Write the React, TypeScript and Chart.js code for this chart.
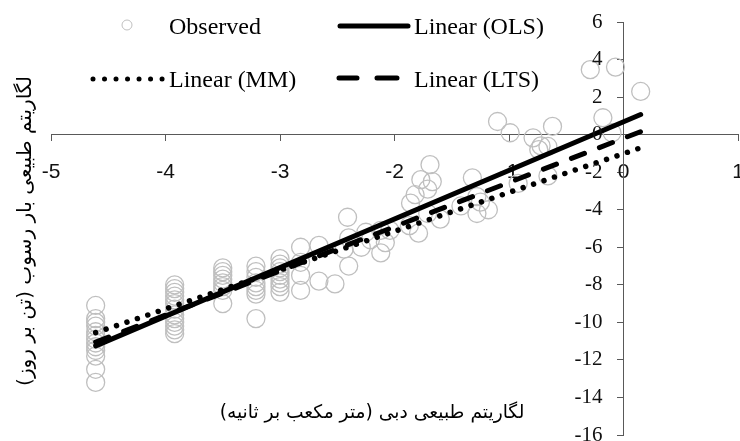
import React, { useEffect, useRef } from "react";
import { Chart, registerables } from "chart.js";

Chart.register(...registerables);

// Observed points (x = ln discharge, y = ln sediment load)
const observedX = [
  -4.61, -4.61, -4.61, -4.61, -4.61, -4.61, -4.61, -4.61, -4.61, -4.61, -4.61, -4.61, -4.61,
  -3.92, -3.92, -3.92, -3.92, -3.92, -3.92, -3.92, -3.92, -3.92, -3.92, -3.92, -3.92, -3.92,
  -3.5, -3.5, -3.5, -3.5, -3.5, -3.5, -3.5, -3.5,
  -3.21, -3.21, -3.21, -3.21, -3.21, -3.21, -3.21, -3.21,
  -3.0, -3.0, -3.0, -3.0, -3.0, -3.0, -3.0, -3.0, -3.0,
  -2.82, -2.82, -2.82, -2.82,
  -2.66, -2.66, -2.52,
  -2.41, -2.4, -2.44, -2.4, -2.29, -2.21, -2.25, -2.12, -2.12, -2.08, -2.04,
  -1.86, -1.87, -1.79, -1.82, -1.77, -1.71, -1.69, -1.67, -1.71, -1.6,
  -1.42, -1.32, -1.28, -1.28, -1.18, -1.25,
  -1.1, -0.99, -0.79, -0.62, -0.74, -0.66, -0.72,
  -0.92, -0.66, -0.18, -0.1, -0.29, -0.07, 0.15,
];
const observedY = [
  -9.1, -9.8, -10.0, -10.2, -10.5, -10.7, -10.9, -11.1, -11.3, -11.5, -11.8, -12.5, -13.2,
  -8.0, -8.2, -8.4, -8.6, -8.8, -9.0, -9.3, -9.6, -9.8, -10.0, -10.2, -10.4, -10.6,
  -7.1, -7.3, -7.5, -7.7, -7.9, -8.1, -8.3, -9.0,
  -7.0, -7.3, -7.6, -7.9, -8.1, -8.3, -8.5, -9.8,
  -6.6, -6.9, -7.1, -7.3, -7.5, -7.7, -7.9, -8.1, -8.4,
  -6.0, -6.8, -7.5, -8.3,
  -5.9, -7.8, -7.95,
  -4.4, -5.5, -6.1, -7.0, -6.0, -5.6, -5.2, -5.1, -6.3, -5.75, -5.1,
  -3.65, -4.85, -5.25, -3.2, -2.4, -2.9, -1.6, -2.5, -4.2, -4.5,
  -3.8, -2.3, -3.3, -4.2, -4.0, -3.6,
  0.7, 0.1, -0.17, 0.44, -0.8, -0.63, -0.6,
  -2.6, -2.2, 0.9, 0.1, 3.46, 3.6, 2.3,
];

// Fitted regression lines (end points)
const fitX = [-4.61, 0.15];
const olsY = [-11.25, 1.07];
const mmY = [-10.55, -0.7];
const ltsY = [-11.05, 0.16];

const legendLabels = ["Observed", "Linear (OLS)", "Linear (MM)", "Linear (LTS)"];
const xTitle = "لگاریتم طبیعی دبی (متر مکعب بر ثانیه)";
const yTitle = "لگاریتم طبیعی بار رسوب (تن بر روز)";

const X_MIN = -5, X_MAX = 1, X_STEP = 1;
const Y_MIN = -16, Y_MAX = 6, Y_STEP = 2;

const toPoints = (xs: number[], ys: number[]) => xs.map((x, i) => ({ x, y: ys[i] }));

const SERIF = "'Liberation Serif', 'Times New Roman', serif";
const SANS = "'Liberation Sans', Arial, sans-serif";
const PERSIAN = "'DejaVu Sans', sans-serif";

const TICK_LEN = 6;
const Y_LABEL_PAD = 15;

const zeroFit = (s: any) => {
  if (s.isHorizontal()) s.height = 0;
  else s.width = 0;
  s.paddingLeft = 0;
  s.paddingRight = 0;
  s.paddingTop = 0;
  s.paddingBottom = 0;
};

const overlayPlugin = {
  id: "overlay",
  afterDraw(chart: any) {
    const ctx: CanvasRenderingContext2D = chart.ctx;
    const xs = chart.scales.x;
    const ys = chart.scales.y;
    ctx.save();

    // ---- y tick labels (left of the axis crossing x = 0) ----
    const axisX = xs.getPixelForValue(0);
    ctx.fillStyle = "#111";
    ctx.font = `21px ${SERIF}`;
    ctx.textAlign = "right";
    ctx.textBaseline = "middle";
    ys.ticks.forEach((t: any) => {
      const py = ys.getPixelForValue(t.value);
      ctx.fillText(String(t.label), axisX - TICK_LEN - Y_LABEL_PAD, py);
    });

    // ---- legend ----
    ctx.fillStyle = "#000";
    ctx.font = `24px ${SERIF}`;
    ctx.textBaseline = "alphabetic";
    ctx.textAlign = "left";
    ctx.beginPath();
    ctx.arc(127, 25, 5, 0, Math.PI * 2);
    ctx.strokeStyle = "#bfbfbf";
    ctx.lineWidth = 1;
    ctx.stroke();
    ctx.fillText(legendLabels[0], 169, 34);
    ctx.strokeStyle = "#000";
    ctx.lineWidth = 5;
    ctx.lineCap = "round";
    ctx.beginPath();
    ctx.moveTo(340, 26);
    ctx.lineTo(408, 26);
    ctx.stroke();
    ctx.fillText(legendLabels[1], 414, 34);
    ctx.setLineDash([0.01, 11.5]);
    ctx.beginPath();
    ctx.moveTo(93, 79);
    ctx.lineTo(164, 79);
    ctx.stroke();
    ctx.setLineDash([]);
    ctx.fillText(legendLabels[2], 169, 87);
    ctx.beginPath();
    ctx.moveTo(339, 78);
    ctx.lineTo(357, 78);
    ctx.moveTo(377, 78);
    ctx.lineTo(397, 78);
    ctx.stroke();
    ctx.fillText(legendLabels[3], 414, 87);

    // ---- axis titles (Persian) ----
    ctx.fillStyle = "#000";
    ctx.direction = "rtl";
    ctx.textAlign = "center";
    ctx.textBaseline = "middle";
    ctx.font = `20px ${PERSIAN}`;
    const wx = ctx.measureText(xTitle).width;
    const fx = (20 * 305) / wx;
    ctx.font = `${fx}px ${PERSIAN}`;
    ctx.fillText(xTitle, 372, 413);

    ctx.font = `20px ${PERSIAN}`;
    const wy = ctx.measureText(yTitle).width;
    const fy = (20 * 310) / wy;
    ctx.font = `${fy}px ${PERSIAN}`;
    ctx.translate(26, 231);
    ctx.rotate(-Math.PI / 2);
    ctx.fillText(yTitle, 0, 0);
    ctx.restore();
  },
};

export default function App() {
  const ref = useRef<HTMLCanvasElement | null>(null);

  useEffect(() => {
    if (!ref.current) return;
    const chart = new Chart(ref.current, {
      type: "scatter",
      data: {
        datasets: [
          {
            label: legendLabels[1],
            data: toPoints(fitX, olsY),
            showLine: true,
            borderColor: "#000",
            borderWidth: 5,
            borderCapStyle: "round",
            pointRadius: 0,
            order: 0,
          },
          {
            label: legendLabels[3],
            data: toPoints(fitX, ltsY),
            showLine: true,
            borderColor: "#000",
            borderWidth: 5,
            borderCapStyle: "round",
            borderDash: [14, 16],
            pointRadius: 0,
            order: 1,
          },
          {
            label: legendLabels[2],
            data: toPoints(fitX, mmY),
            showLine: true,
            borderColor: "#000",
            borderWidth: 5.5,
            borderCapStyle: "round",
            borderDash: [0.01, 11],
            pointRadius: 0,
            order: 2,
          },
          {
            label: legendLabels[0],
            data: toPoints(observedX, observedY),
            showLine: false,
            pointRadius: 9,
            pointBorderColor: "#bfbfbf",
            pointBackgroundColor: "rgba(0,0,0,0)",
            pointBorderWidth: 1.3,
            order: 10,
          },
        ],
      },
      options: {
        responsive: false,
        animation: false,
        layout: { autoPadding: false, padding: { left: 51, right: 2, top: 22, bottom: 6 } },
        plugins: { legend: { display: false }, tooltip: { enabled: false } },
        scales: {
          x: {
            type: "linear",
            position: { y: 0 } as any,
            min: X_MIN,
            max: X_MAX,
            afterFit: zeroFit,
            ticks: {
              stepSize: X_STEP,
              autoSkip: false,
              maxRotation: 0,
              padding: 19,
              color: "#111",
              font: { family: SANS, size: 21 },
            },
            grid: { drawOnChartArea: false, drawTicks: true, tickLength: TICK_LEN, color: "#595959" },
            border: { display: true, color: "#595959", width: 1 },
          },
          y: {
            type: "linear",
            position: { x: 0 } as any,
            min: Y_MIN,
            max: Y_MAX,
            afterFit: zeroFit,
            ticks: {
              display: false,
              stepSize: Y_STEP,
              autoSkip: false,
            },
            grid: { drawOnChartArea: false, drawTicks: true, tickLength: TICK_LEN, color: "#595959" },
            border: { display: true, color: "#595959", width: 1 },
          },
        },
      },
      plugins: [overlayPlugin],
    } as any);
    return () => chart.destroy();
  }, []);

  return (
    <div style={{ position: "absolute", left: 0, top: 0, width: 740, height: 441, background: "#fff" }}>
      <canvas ref={ref} width={740} height={441} style={{ display: "block" }} />
    </div>
  );
}
